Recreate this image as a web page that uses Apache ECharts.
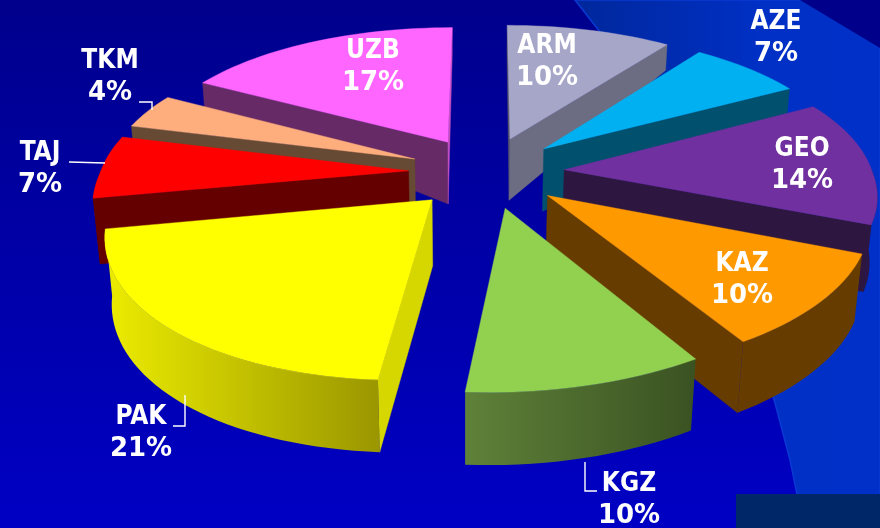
<!DOCTYPE html>
<html>
<head>
<meta charset="utf-8">
<style>html,body{margin:0;padding:0;background:#0000a8}#c{width:880px;height:528px}</style>
<script src="https://cdn.jsdelivr.net/npm/echarts@6/dist/echarts.min.js"></script>
</head>
<body>
<div id="c"></div>
<script>
// ---- data ----
const categories = ['ARM','AZE','GEO','KAZ','KGZ','PAK','TAJ','TKM','UZB'];
const shares     = [10,7,14,10,10,21,7,4,17];

// ---- styles ----
const topColors  = ['#a6a6c8','#00b0f0','#7030a0','#ff9900','#92d050','#ffff00','#ff0000','#fdae7c','#ff66ff'];
const wallColors = ['#6c6c82','#00506e','#2d1640','#663c00','#5a7d36','#d6d600','#640000','#664a33','#662a66'];
const rimStops   = {KGZ:['#5f8139','#3a5222'], PAK:['#ecec00','#9a9600']};
const labelCenters = {ARM:[547,46],AZE:[776,22],GEO:[802,149],KAZ:[742,264],KGZ:[629,484],PAK:[141,417],TAJ:[40,153],TKM:[110,61],UZB:[373,51]};
const leaders = [
  [[139,102],[152,102],[152,110]],
  [[69,162],[105,163]],
  [[173,426],[185,426],[185,395]],
  [[585,462],[585,491],[597,491]]
];

// ---- projection ----
const CX=486.5, CY=172, RADIUS=308, EXPLODE=78, TILT=0.46, PERSP=0.00052, PERSP_BACK_X=0.00042, PERSP_FRONT_X=0.00055, DRIFT_LIN=0.012, DRIFT_SQ=1.15e-4;
const heightKnots=[[0,27],[90,24],[135,60],[143,62],[200,66],[400,73],[600,73]];
function project(X,Y){
  const w=1/(1-PERSP*Y);
  const wx=Y<0?1/(1-PERSP_BACK_X*Y):1/(1-PERSP_FRONT_X*Y);
  const drift=Y>0?DRIFT_LIN*Y+DRIFT_SQ*Y*Y:0;
  return [CX+X*wx-drift, CY+TILT*Y*w];
}
function wallHeight(y){
  for(let i=1;i<heightKnots.length;i++){
    if(y<=heightKnots[i][0]){
      const a=heightKnots[i-1],b=heightKnots[i];
      return a[1]+(b[1]-a[1])*(y-a[0])/(b[0]-a[0]);
    }
  }
  return 73;
}
function drop(p){
  const h=wallHeight(p[1]);
  return [p[0]-(p[0]-465)*0.02*h/70, p[1]+h];
}
const rad=d=>d*Math.PI/180;
const total=shares.reduce((a,b)=>a+b,0);
let run=0;
const slices=shares.map((v,i)=>{
  const a0=run/total*360; run+=v; const a1=run/total*360;
  const m=rad((a0+a1)/2);
  const ox=EXPLODE*Math.sin(m), oy=-EXPLODE*Math.cos(m);
  const rimPt=d=>project(ox+RADIUS*Math.sin(rad(d)), oy-RADIUS*Math.cos(rad(d)));
  return {i,a0,a1,m,apex:project(ox,oy),rimPt};
});
function arc(s,from,to){
  const n=Math.max(2,Math.ceil((to-from)/2)), pts=[];
  for(let k=0;k<=n;k++) pts.push(s.rimPt(from+(to-from)*k/n));
  return pts;
}
const drawOrder=slices.slice().sort((p,q)=>Math.cos(q.m)-Math.cos(p.m)).map(s=>s.i);

function poly(points,fill){
  return {type:'polygon',shape:{points},style:{fill,stroke:fill,lineWidth:0.4},silent:true};
}
function renderSlice(params,api){
  const s=slices[api.value(0)], name=categories[s.i], kids=[], wall=wallColors[s.i];
  const sin0=Math.sin(rad(s.a0)), sin1=Math.sin(rad(s.a1));
  if(s.a0===0||sin0<0){
    const r=s.rimPt(s.a0);
    kids.push(poly([s.apex,r,drop(r),drop(s.apex)], s.a0===0?'#55556a':wall));
  }
  if(s.a1>=359.9||sin1>0){
    const r=s.rimPt(s.a1);
    kids.push(poly([s.apex,r,drop(r),drop(s.apex)], s.a1>=359.9?'#c04ec0':wall));
  }
  const f=Math.max(s.a0,90), t=Math.min(s.a1,270);
  if(t>f){
    const top=arc(s,f,t);
    const stops=rimStops[name];
    const fill=stops?{type:'linear',x:0,y:0,x2:1,y2:0,
      colorStops:[{offset:0,color:stops[0]},{offset:1,color:stops[1]}]}:wall;
    kids.push({type:'polygon',shape:{points:top.concat(top.map(drop).reverse())},style:{fill},silent:true});
  }
  kids.push(poly([s.apex].concat(arc(s,s.a0,s.a1)),topColors[s.i]));
  return {type:'group',children:kids};
}
function renderLabel(params,api){
  const i=api.value(0), name=categories[i], c=labelCenters[name];
  const mk=(text,y,font)=>({type:'text',style:{text,x:c[0],y,align:'center',verticalAlign:'middle',
    fill:'#ffffff',font},silent:true});
  return {type:'group',children:[
    mk(name,c[1],'bold 26px "DejaVu Sans Condensed","DejaVu Sans"'),
    mk(shares[i]+'%',c[1]+32,'bold 26px "DejaVu Sans"')
  ]};
}
function renderLeader(params,api){
  return {type:'polyline',shape:{points:leaders[api.value(0)]},style:{fill:null,stroke:'#ffffff',lineWidth:1.4},silent:true};
}

const chart=echarts.init(document.getElementById('c'),null,{renderer:'canvas'});
chart.setOption({
  animation:false,
  backgroundColor:{type:'linear',x:0,y:0,x2:0,y2:1,colorStops:[{offset:0,color:'#00008c'},{offset:1,color:'#0000c4'}]},
  graphic:[
    {type:'polygon',z:0,shape:{points:[[575,0],[600,32],[640,85],[700,200],[745,310],[775,403],[790,460],[797,494],[800,528],[880,528],[880,0]]},
     style:{fill:{type:'linear',x:0,y:0,x2:1,y2:0,colorStops:[{offset:0,color:'#00279b'},{offset:0.6,color:'#0030c4'},{offset:1,color:'#0030c8'}]},stroke:'#0a3ad4',lineWidth:1.5},silent:true},
    {type:'polygon',z:0,shape:{points:[[800,0],[880,48],[880,0]]},style:{fill:'#00008a'},silent:true},
    {type:'rect',z:0,shape:{x:736,y:494,width:144,height:34},style:{fill:'#002868'},silent:true}
  ],
  series:[
    {type:'custom',coordinateSystem:'none',silent:true,data:drawOrder.map(i=>[i]),renderItem:renderSlice,z:2},
    {type:'custom',coordinateSystem:'none',silent:true,data:leaders.map((l,i)=>[i]),renderItem:renderLeader,z:3},
    {type:'custom',coordinateSystem:'none',silent:true,data:categories.map((c,i)=>[i]),renderItem:renderLabel,z:4}
  ]
});
</script>
</body>
</html>
